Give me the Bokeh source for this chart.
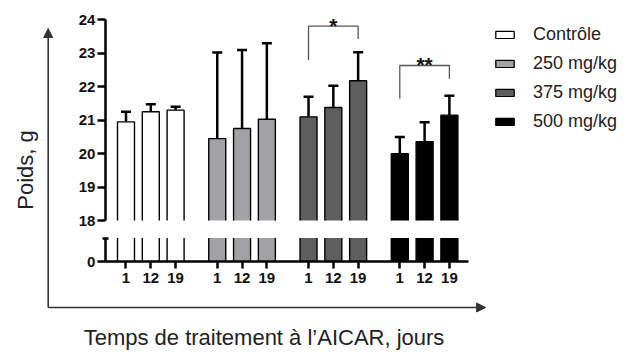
import numpy as np
from bokeh.plotting import figure
from bokeh.models import (Range1d, LinearAxis, FixedTicker, CustomJSTickFormatter,
                          ColumnDataSource, Whisker, TeeHead, Arrow, NormalHead, Label,
                          Legend, LegendItem)
from bokeh.embed import file_html
from bokeh.resources import INLINE

# ---------------- data ----------------
groups = ["Contrôle", "250 mg/kg", "375 mg/kg", "500 mg/kg"]
times = ["1", "12", "19"]
controle = [20.95, 21.25, 21.30]
dose_250 = [20.45, 20.75, 21.03]
dose_375 = [21.10, 21.38, 22.18]
dose_500 = [20.00, 20.36, 21.15]
err_controle = [0.30, 0.23, 0.10]
err_250 = [2.57, 2.35, 2.27]
err_375 = [0.60, 0.65, 0.85]
err_500 = [0.50, 0.58, 0.58]
y_ticks_upper = [18, 19, 20, 21, 22, 23, 24]
y_ticks_lower = [0]
significance = [("375 mg/kg", "*"), ("500 mg/kg", "**")]
x_title = "Temps de traitement à l’AICAR, jours"
y_title = "Poids, g"

# ---------------- styling / layout ----------------
colors = ["#ffffff", "#a2a2a6", "#5e5e5e", "#000000"]
FONT = "Liberation Sans"
W, H = 626, 354
GROUP_GAP = 0.68
BAR_W = 0.685
BREAK = 18.0          # start of upper segment
LOW_TOP = 0.70        # top of lower segment (same scale as upper)
SPINE_X = -0.83
X_END = 13.82

means = [controle, dose_250, dose_375, dose_500]
errs = [err_controle, err_250, err_375, err_500]
n_t = len(times)

xs, vals, ers, fills, labels = [], [], [], [], []
for g, (m, e) in enumerate(zip(means, errs)):
    for t in range(n_t):
        xs.append(g * (n_t + GROUP_GAP) + t)
        vals.append(m[t]); ers.append(e[t]); fills.append(colors[g]); labels.append(times[t])
xs = np.array(xs); vals = np.array(vals); ers = np.array(ers)

p = figure(width=W, height=H, output_backend="svg", toolbar_location=None,
           x_range=Range1d(-5.060, 20.181), y_range=Range1d(13.995, 24.578),
           x_axis_location=None, y_axis_location=None, min_border=0,
           outline_line_color=None, background_fill_color="white")
p.xgrid.visible = False
p.ygrid.visible = False
p.extra_y_ranges = {"low": Range1d(-2.780, 7.803)}

# upper bar segments
p.vbar(x=xs, bottom=BREAK, top=vals, width=BAR_W, fill_color=fills, line_color=None)
up_xs = [[x - BAR_W / 2, x - BAR_W / 2, x + BAR_W / 2, x + BAR_W / 2] for x in xs]
up_ys = [[BREAK, v, v, BREAK] for v in vals]
p.multi_line(xs=up_xs, ys=up_ys, line_color="black", line_width=1.4)

# lower bar segments
p.vbar(x=xs, bottom=0, top=LOW_TOP, width=BAR_W, fill_color=fills, line_color=None,
       y_range_name="low")
lo_xs, lo_ys = [], []
for x in xs:
    for s in (-1, 1):
        lo_xs.append([x + s * BAR_W / 2, x + s * BAR_W / 2]); lo_ys.append([0, LOW_TOP])
p.multi_line(xs=lo_xs, ys=lo_ys, line_color="black", line_width=1.4, y_range_name="low")

# error bars (upper only)
src = ColumnDataSource(dict(base=xs, lower=vals, upper=vals + ers))
p.add_layout(Whisker(base="base", lower="lower", upper="upper", source=src,
                     dimension="height", line_width=2.5, line_color="black",
                     upper_head=TeeHead(size=10, line_width=2.5, line_color="black"),
                     lower_head=None))

# axes
def style_axis(ax):
    ax.axis_line_width = 2.5
    ax.axis_line_color = "black"
    ax.major_tick_line_width = 2.5
    ax.major_tick_line_color = "black"
    ax.minor_tick_line_color = None
    ax.major_tick_in = 0
    ax.major_tick_out = 8
    ax.major_label_text_font = FONT
    ax.major_label_text_font_style = "bold"
    ax.major_label_text_font_size = "15px"
    ax.major_label_text_color = "#111111"

yax = LinearAxis(fixed_location=SPINE_X, bounds=(BREAK, 24), ticker=FixedTicker(ticks=y_ticks_upper))
style_axis(yax); yax.major_label_standoff = 2
p.add_layout(yax, "left")

yax_lo = LinearAxis(y_range_name="low", fixed_location=SPINE_X, bounds=(0, LOW_TOP),
                    ticker=FixedTicker(ticks=y_ticks_lower))
style_axis(yax_lo); yax_lo.major_label_standoff = 2
p.add_layout(yax_lo, "left")

cap = LinearAxis(y_range_name="low", fixed_location=SPINE_X, bounds=(0, LOW_TOP),
                 ticker=FixedTicker(ticks=[LOW_TOP]))
style_axis(cap)
cap.axis_line_color = None
cap.major_tick_in = 3; cap.major_tick_out = 3
cap.major_label_text_color = None
p.add_layout(cap, "left")

xax = LinearAxis(y_range_name="low", fixed_location=0, bounds=(SPINE_X, X_END),
                 ticker=FixedTicker(ticks=list(xs)),
                 formatter=CustomJSTickFormatter(args=dict(labels=labels),
                                                 code="return labels[index]"))
style_axis(xax); xax.major_label_standoff = 4; xax.major_tick_out = 7
p.add_layout(xax, "below")

# significance brackets
bracket_levels = {"375 mg/kg": (23.81, 22.80, 23.43), "500 mg/kg": (22.635, 21.64, 22.24)}
for name, stars in significance:
    g = groups.index(name)
    xl, xr = xs[g * n_t], xs[g * n_t + n_t - 1]
    top, lb, rb = bracket_levels[name]
    p.line(x=[xl, xl, xr, xr], y=[lb, top, top, rb], line_color="#555555", line_width=1.3)
    p.add_layout(Label(x=(xl + xr) / 2, y=top, text=stars, text_align="center",
                       text_baseline="alphabetic", text_font=FONT, text_font_style="bold",
                       text_font_size="21px", text_color="#111111", y_offset=1))

# outer arrows
AX_X, AX_Y = -3.137, 15.40
p.add_layout(Arrow(x_start=AX_X, y_start=AX_Y, x_end=AX_X, y_end=23.74,
                   line_color="#333333", line_width=1.6,
                   end=NormalHead(size=9, fill_color="#333333", line_color="#333333")))
p.add_layout(Arrow(x_start=AX_X, y_start=AX_Y, x_end=14.50, y_end=AX_Y,
                   line_color="#333333", line_width=1.6,
                   end=NormalHead(size=9, fill_color="#333333", line_color="#333333")))

# titles
p.add_layout(Label(x=-4.05, y=19.51, text=y_title, angle=np.pi / 2, text_align="center",
                   text_baseline="middle", text_font=FONT, text_font_size="22px",
                   text_color="#222222"))
p.add_layout(Label(x=5.565, y=14.51, text=x_title, text_align="center",
                   text_baseline="alphabetic", text_font=FONT, text_font_size="22px",
                   text_color="#222222"))

# legend (swatch renderers carry no visible marks)
items = []
for name, c in zip(groups, colors):
    r = p.vbar(x=[np.nan], top=[np.nan], width=BAR_W, fill_color=c, line_color="black",
               line_width=1.3)
    items.append(LegendItem(label=name, renderers=[r]))
legend = Legend(items=items, location=(493, 222), glyph_width=23, glyph_height=9,
                label_standoff=17, spacing=8, padding=0, margin=0, label_height=19,
                label_text_font=FONT, label_text_font_size="18px", label_text_color="#222222",
                border_line_color=None, background_fill_alpha=0)
p.add_layout(legend)

open("out.html", "w").write(file_html(p, INLINE))
